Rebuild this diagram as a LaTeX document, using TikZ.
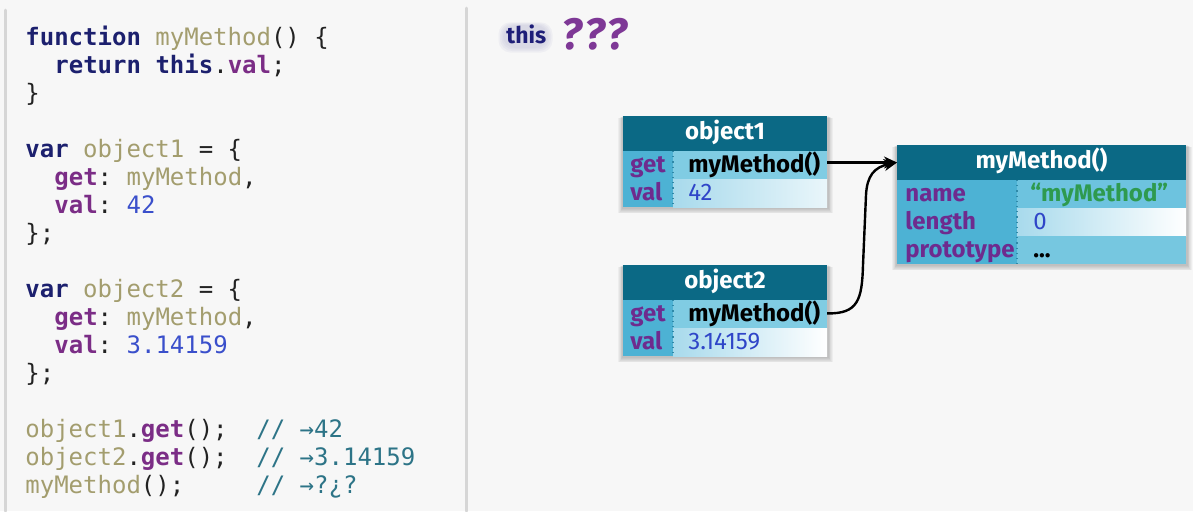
\documentclass[tikz,border=0pt]{standalone}
\usepackage{fontspec}
\setmonofont{DejaVu Sans Mono}
\newfontfamily\boxfont{Fira Sans}
\usetikzlibrary{arrows.meta}
\definecolor{bg}{HTML}{F7F7F7}
\definecolor{panelline}{HTML}{D6D6D6}
\definecolor{kwc}{HTML}{1C206E}
\definecolor{idc}{HTML}{A39D6E}
\definecolor{propc}{HTML}{7B2D86}
\definecolor{numc}{HTML}{3A4FCB}
\definecolor{comc}{HTML}{2D7487}
\definecolor{punc}{HTML}{222222}
\definecolor{hdrc}{HTML}{0B6985}
\definecolor{labc}{HTML}{4DB2D4}
\definecolor{getc}{HTML}{80CCE3}
\definecolor{namec}{HTML}{6DC3DF}
\definecolor{protoc}{HTML}{76C7E0}
\definecolor{lightc}{HTML}{A8DAEC}
\definecolor{lblc}{HTML}{6E2B8E}
\definecolor{valnum}{HTML}{2F45C8}
\definecolor{strc}{HTML}{2E9A4E}
\definecolor{thisc}{HTML}{1E1E78}
\definecolor{qc}{HTML}{7E3896}
\definecolor{divc}{HTML}{2F89A8}
\newcommand\ckw[1]{\textcolor{kwc}{\bfseries #1}}
\newcommand\cid[1]{\textcolor{idc}{#1}}
\newcommand\cprop[1]{\textcolor{propc}{\bfseries #1}}
\newcommand\cnum[1]{\textcolor{numc}{#1}}
\newcommand\boxshade[4]{\foreach \k in {1,...,6}{\fill[black,opacity=0.04] (#1-\k*0.8,#2+\k*0.3) rectangle (#3+\k*0.8+1,#4+\k*0.9+1);}}
\tikzset{
  codeline/.style={anchor=base west, inner sep=0, text=punc, font=\ttfamily\fontsize{12}{14}\selectfont},
  comment/.style={codeline, text=comc},
  hdr/.style={anchor=north west, inner sep=0, outer sep=0, fill=hdrc, text=white,
    font=\boxfont\bfseries\fontsize{12}{14}\selectfont, text height=8.6pt, text depth=2.4pt},
  frame/.style={anchor=north west, inner sep=0, outer sep=0},
  lbl/.style={anchor=base west, inner sep=0, text=lblc, font=\boxfont\bfseries\fontsize{12}{14}\selectfont},
  valb/.style={anchor=base west, inner sep=0, text=black, font=\boxfont\bfseries\fontsize{12}{14}\selectfont},
  valn/.style={anchor=base west, inner sep=0, text=valnum, font=\boxfont\fontsize{12}{14}\selectfont},
  vals/.style={anchor=base west, inner sep=0, text=strc, font=\boxfont\bfseries\fontsize{12}{14}\selectfont},
  divider/.style={dotted, draw=divc, line width=0.6pt},
  conn/.style={draw=black, line width=1.2pt, -{Stealth[length=6.5pt,width=6pt]}},
  thisstyle/.style={anchor=base west, inner sep=0, font=\boxfont\bfseries\fontsize{11.5}{13}\selectfont},
}
\begin{document}
\begin{tikzpicture}[x=0.5pt,y=-0.5pt]
\useasboundingbox (0,0) rectangle (1193,511);
\fill[bg] (0,0) rectangle (1193,511);
% panel lines
\draw[panelline, line width=1.5pt, line cap=round] (5,10) -- (5,511);
\draw[panelline, line width=1.5pt, line cap=round] (466,8) -- (466,511);
% code
\node[codeline] (c1) at (25,45) {\ckw{function} \cid{myMethod}() \{};
\node[codeline] (c2) at (54,73) {\ckw{return} \ckw{this}.\cprop{val};};
\node[codeline] (c3) at (25,101) {\}};
\node[codeline] (c5) at (25,157) {\ckw{var} \cid{object1} = \{};
\node[codeline] (c6) at (54,185) {\cprop{get}: \cid{myMethod},};
\node[codeline] (c7) at (54,213) {\cprop{val}: \cnum{42}};
\node[codeline] (c8) at (25,241) {\};};
\node[codeline] (c10) at (25,297) {\ckw{var} \cid{object2} = \{};
\node[codeline] (c11) at (54,325) {\cprop{get}: \cid{myMethod},};
\node[codeline] (c12) at (54,353) {\cprop{val}: \cnum{3.14159}};
\node[codeline] (c13) at (25,381) {\};};
\node[codeline] (c15) at (25,437) {\cid{object1}.\cprop{get}();};
\node[codeline] (c16) at (25,465) {\cid{object2}.\cprop{get}();};
\node[codeline] (c17) at (25,493) {\cid{myMethod}();};
\node[comment] (k15) at (256,437) {// →42};
\node[comment] (k16) at (256,465) {// →3.14159};
\node[comment] (k17) at (256,493) {// →?¿?};
% this ???  (soft halo behind "this")
\foreach \e in {0,1.5,3,4.5}{
  \fill[thisc!35, opacity=0.12, rounded corners=6pt] (503-\e,25-\e*0.6) rectangle (548+\e,48+\e);
}
\node[thisstyle, text=thisc] (this) at (506,43) {this};
\node[anchor=base west, inner sep=0, text=qc, font=\boxfont\bfseries\itshape\fontsize{22}{26}\selectfont] (qq) at (561,49) {?\kern1pt?\kern1pt?};
% shadows
\boxshade{623}{116}{827}{207}
\boxshade{623}{265}{827}{356}
\boxshade{897}{145}{1186}{264}
% object1
\node[frame, minimum width=102pt, minimum height=45.5pt] (o1) at (623,116) {};
\fill[labc] (623,151) rectangle (673,207);
\fill[getc] (673,151) rectangle (827,179);
\shade[left color=lightc, right color=lightc!25] (673,179) rectangle (827,207);
\node[hdr, minimum width=102pt, minimum height=17.5pt] (o1h) at (623,116) {object1};
\draw[divider] (673,151) -- (673,207);
\node[lbl] (o1gl) at (630,172) {get};
\node[lbl] (o1vl) at (630,200) {val};
\node[valb] (o1g) at (688,172) {myMethod()};
\node[valn] (o1v) at (688,200) {42};
% object2
\node[frame, minimum width=102pt, minimum height=45.5pt] (o2) at (623,265) {};
\fill[labc] (623,300) rectangle (673,356);
\fill[getc] (673,300) rectangle (827,328);
\shade[left color=lightc, right color=white] (673,328) rectangle (827,356);
\node[hdr, minimum width=102pt, minimum height=17.5pt] (o2h) at (623,265) {object2};
\draw[divider] (673,300) -- (673,356);
\node[lbl] (o2gl) at (630,321) {get};
\node[lbl] (o2vl) at (630,349) {val};
\node[valb] (o2g) at (688,321) {myMethod()};
\node[valn] (o2v) at (688,349) {3.14159};
% myMethod
\node[frame, minimum width=144.5pt, minimum height=59.5pt] (mm) at (897,145) {};
\fill[labc] (897,180) rectangle (1017,264);
\fill[namec] (1017,180) rectangle (1186,208);
\shade[left color=lightc, right color=white] (1017,208) rectangle (1186,236);
\fill[protoc] (1017,236) rectangle (1186,264);
\node[hdr, minimum width=144.5pt, minimum height=17.5pt] (mmh) at (897,145) {myMethod()};
\draw[divider] (1017,180) -- (1017,264);
\node[lbl] (mmnl) at (905,201) {name};
\node[lbl] (mmll) at (905,229) {length};
\node[lbl] (mmpl) at (905,257) {prototype};
\node[vals] (mmn) at (1030,201) {“myMethod”};
\node[valn] (mml) at (1033,229) {0};
\node[valb] (mmp) at (1033,257) {...};
% connectors
\draw[conn] (o1.east |- mmh.west) -- (mmh.west);
\draw[conn] (o2.east |- o2g) .. controls (858,314) and (862,300) .. (863,265) -- (866,195) .. controls (867,176) and (874,167) .. (mmh.west);
\end{tikzpicture}
\end{document}
